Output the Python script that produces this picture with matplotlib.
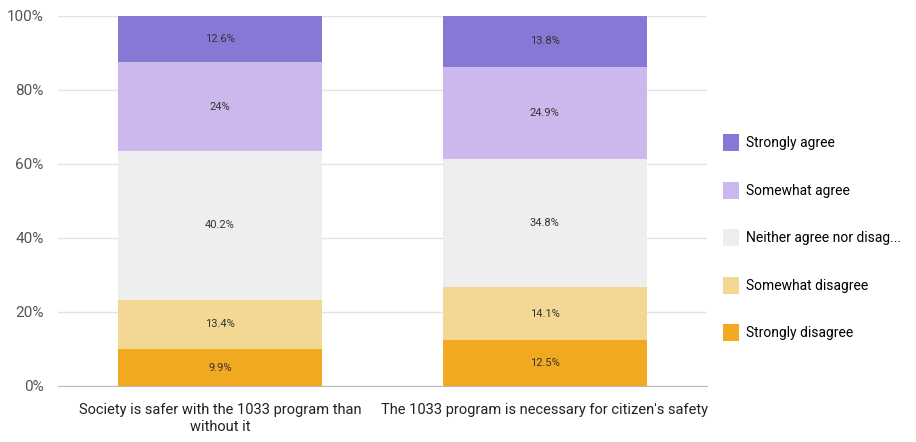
import matplotlib.pyplot as plt
from matplotlib.patches import Patch
import numpy as np

plt.rcParams["font.family"] = ["Roboto", "DejaVu Sans"]

categories = [
    "Society is safer with the 1033 program than\nwithout it",
    "The 1033 program is necessary for citizen's safety",
]
series_names = [
    "Strongly disagree",
    "Somewhat disagree",
    "Neither agree nor disag...",
    "Somewhat agree",
    "Strongly agree",
]
strongly_disagree = [9.9, 12.5]
somewhat_disagree = [13.4, 14.1]
neither = [40.2, 34.8]
somewhat_agree = [24, 24.9]
strongly_agree = [12.6, 13.8]
series_values = [strongly_disagree, somewhat_disagree, neither, somewhat_agree, strongly_agree]
colors = ["#F2A922", "#F2D893", "#EEEEEE", "#CDB8EE", "#8678D4"]

fig = plt.figure(figsize=(9.16, 4.42), dpi=100)
ax = fig.add_axes([0.063, 0.127, 0.709, 0.837])

x = np.arange(len(categories))
bottom = np.zeros(len(categories))
for vals, color in zip(series_values, colors):
    vals = np.array(vals, dtype=float)
    ax.bar(x, vals, bottom=bottom, width=0.63, color=color, zorder=2)
    for xi, b, v in zip(x, bottom, vals):
        label = f"{v:g}%"
        ax.text(xi, b + v / 2, label, ha="center", va="center", fontsize=8, color="#333333", zorder=3)
    bottom = bottom + vals

ax.set_xlim(-0.5, 1.5)
ax.set_ylim(0, 100)
ax.set_yticks([0, 20, 40, 60, 80, 100])
ax.set_yticklabels([f"{t}%" for t in [0, 20, 40, 60, 80, 100]])
ax.set_xticks(x)
ax.set_xticklabels(categories, fontsize=10.5, color="#222222", linespacing=1.3)
ax.tick_params(axis="y", labelsize=11, labelcolor="#555555", length=0, pad=10)
ax.tick_params(axis="x", length=0, pad=12)
ax.grid(axis="y", color="#E3E3E3", linewidth=1, zorder=0)
for side in ["top", "right", "left"]:
    ax.spines[side].set_visible(False)
ax.spines["bottom"].set_color("#BBBBBB")
ax.spines["bottom"].set_zorder(4)

handles = [Patch(facecolor=c, label=n) for n, c in zip(series_names, colors)][::-1]
fig.legend(
    handles=handles,
    loc="center left",
    bbox_to_anchor=(0.776, 0.462),
    frameon=False,
    fontsize=10,
    handlelength=1.1,
    handleheight=1.5,
    handletextpad=0.5,
    labelspacing=2.2,
)

fig.savefig("out.png", dpi=100)
